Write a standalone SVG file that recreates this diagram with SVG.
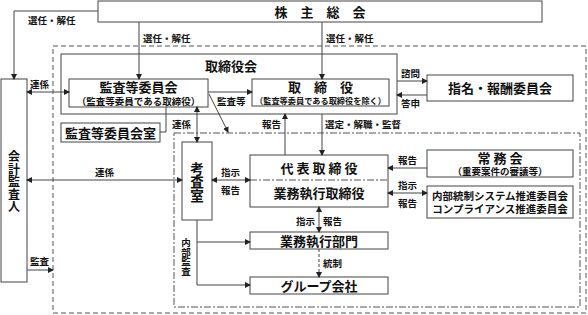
<svg xmlns="http://www.w3.org/2000/svg" width="588" height="315" viewBox="0 0 588 315">
<defs>
<marker id="ah" markerWidth="6" markerHeight="6" refX="5" refY="3" orient="auto-start-reverse" markerUnits="userSpaceOnUse">
<path d="M0,0 L6,3 L0,6 z" fill="#222"/>
</marker>
<style>
.box{fill:#fff;stroke:#444;stroke-width:1}
.ln{fill:none;stroke:#444;stroke-width:1}
.t{font-family:"Noto Sans CJK JP","Noto Sans",sans-serif;fill:#111;text-anchor:middle;font-weight:bold}
.big{font-size:13px}
.sm{font-size:9.5px}
.xs{font-size:8.5px}
.lb{font-family:"Noto Sans CJK JP","Noto Sans",sans-serif;fill:#111;font-size:9.5px;font-weight:bold}
.v{writing-mode:vertical-rl;text-anchor:middle}
</style>
</defs>
<rect width="588" height="315" fill="#fff"/>
<g id="frames">
<rect x="53" y="46" width="533" height="267" fill="none" stroke="#555" stroke-dasharray="5,3"/>
<rect x="61" y="54" width="336" height="60" fill="none" stroke="#444"/>
<text x="231" y="71" class="t big">取締役会</text>
<rect x="174" y="133" width="406" height="174" fill="none" stroke="#555" stroke-dasharray="7,2,2,2"/>
</g>
<g id="kabunushi">
<rect x="98" y="1" width="444" height="21" class="box"/>
<text x="320" y="16.5" class="t big" xml:space="preserve">株　主　総　会</text>
</g>
<g id="kaikei">
<rect x="1" y="79" width="26" height="203" class="box"/>
<text x="14" y="182" class="t v" font-size="12" letter-spacing="0.5">会計監査人</text>
</g>
<g id="kansaiinkai">
<rect x="69" y="79" width="139" height="28" class="box"/>
<text x="138.5" y="92" class="t big">監査等委員会</text>
<text x="138.5" y="104.5" class="t sm">（監査等委員である取締役）</text>
</g>
<g id="torishimariyaku">
<rect x="252" y="79" width="137" height="27" class="box"/>
<text x="320.5" y="92" class="t big" xml:space="preserve">取　締　役</text>
<text x="320.5" y="104" class="t xs" textLength="131" lengthAdjust="spacingAndGlyphs">（監査等委員である取締役を除く）</text>
</g>
<g id="shimei">
<rect x="427" y="75" width="146" height="26" class="box"/>
<text x="500" y="92.5" class="t big">指名・報酬委員会</text>
</g>
<g id="shitsu">
<rect x="61" y="123" width="99" height="19" class="box"/>
<text x="110.5" y="137.5" class="t big">監査等委員会室</text>
</g>
<g id="kousa">
<rect x="182" y="142" width="30" height="78" class="box"/>
<text x="197" y="182" class="t v" font-size="13.5">考査室</text>
</g>
<g id="daihyo">
<rect x="250" y="155" width="138" height="52" class="box"/>
<line x1="250" y1="180" x2="388" y2="180" stroke="#555" stroke-dasharray="7,2,2,2"/>
<text x="319" y="172.5" class="t big" xml:space="preserve">代 表 取 締 役</text>
<text x="319" y="198" class="t big">業務執行取締役</text>
</g>
<g id="joumu">
<rect x="427" y="150" width="146" height="27" class="box"/>
<text x="500" y="163" class="t big" xml:space="preserve">常 務 会</text>
<text x="500" y="175" class="t sm">（重要案件の審議等）</text>
</g>
<g id="naibu">
<rect x="427" y="186" width="146" height="32" class="box"/>
<text x="500" y="200" class="t" font-size="10.5">内部統制システム推進委員会</text>
<text x="500" y="213" class="t" font-size="10.5">コンプライアンス推進委員会</text>
</g>
<g id="bumon">
<rect x="250" y="232" width="138" height="17" class="box"/>
<text x="319" y="245.5" class="t big">業務執行部門</text>
</g>
<g id="group">
<rect x="250" y="277" width="138" height="17" class="box"/>
<text x="319" y="290.5" class="t big">グループ会社</text>
</g>
<g id="connectors">
<path d="M98,11 H14 V79" class="ln" marker-end="url(#ah)"/>
<path d="M139,22 V79" class="ln" marker-end="url(#ah)"/>
<path d="M322,22 V79" class="ln" marker-end="url(#ah)"/>
<path d="M27,92 H69" class="ln" marker-start="url(#ah)" marker-end="url(#ah)"/>
<path d="M208,92 H252" class="ln" marker-end="url(#ah)"/>
<path d="M397,81 H427" class="ln" marker-end="url(#ah)"/>
<path d="M427,95 H397" class="ln" marker-end="url(#ah)"/>
<path d="M166,107 V132 H160" class="ln"/>
<path d="M197,107 V142" class="ln" marker-start="url(#ah)" marker-end="url(#ah)"/>
<path d="M209,94 L228,132" class="ln" marker-end="url(#ah)"/>
<path d="M285,155 V114" class="ln" marker-end="url(#ah)"/>
<path d="M322,114 V155" class="ln" marker-end="url(#ah)"/>
<path d="M27,180 H182" class="ln" marker-start="url(#ah)" marker-end="url(#ah)"/>
<path d="M212,180 H250" class="ln" marker-start="url(#ah)" marker-end="url(#ah)"/>
<path d="M427,168 H388" class="ln" marker-end="url(#ah)"/>
<path d="M388,193 H427" class="ln" marker-start="url(#ah)" marker-end="url(#ah)"/>
<path d="M319,207 V232" class="ln" marker-start="url(#ah)" marker-end="url(#ah)"/>
<path d="M319,249 V277" class="ln" stroke-dasharray="3,2" marker-end="url(#ah)"/>
<path d="M197,220 V285 H250" class="ln" marker-end="url(#ah)"/>
<path d="M197,242 H250" class="ln" marker-end="url(#ah)"/>
<path d="M27,270 H53" class="ln" marker-end="url(#ah)"/>
<text x="28" y="24" class="lb">選任・解任</text>
<text x="143" y="42" class="lb">選任・解任</text>
<text x="326" y="42" class="lb">選任・解任</text>
<text x="30" y="88" class="lb">連係</text>
<text x="217" y="105" class="lb">監査等</text>
<text x="401" y="77" class="lb">諮問</text>
<text x="401" y="107" class="lb">答申</text>
<text x="172" y="128" class="lb">連係</text>
<text x="262" y="128" class="lb">報告</text>
<text x="325" y="128" class="lb">選定・解職・監督</text>
<text x="95" y="176" class="lb">連係</text>
<text x="221" y="176" class="lb">指示</text>
<text x="221" y="194" class="lb">報告</text>
<text x="398" y="164" class="lb">報告</text>
<text x="398" y="189" class="lb">指示</text>
<text x="398" y="207" class="lb">報告</text>
<text x="296" y="225" class="lb">指示</text>
<text x="323" y="225" class="lb">報告</text>
<text x="323" y="267" class="lb">統制</text>
<text x="30" y="265" class="lb">監査</text>
<text x="186" y="257" class="lb v">内部監査</text>
</g>
</svg>
